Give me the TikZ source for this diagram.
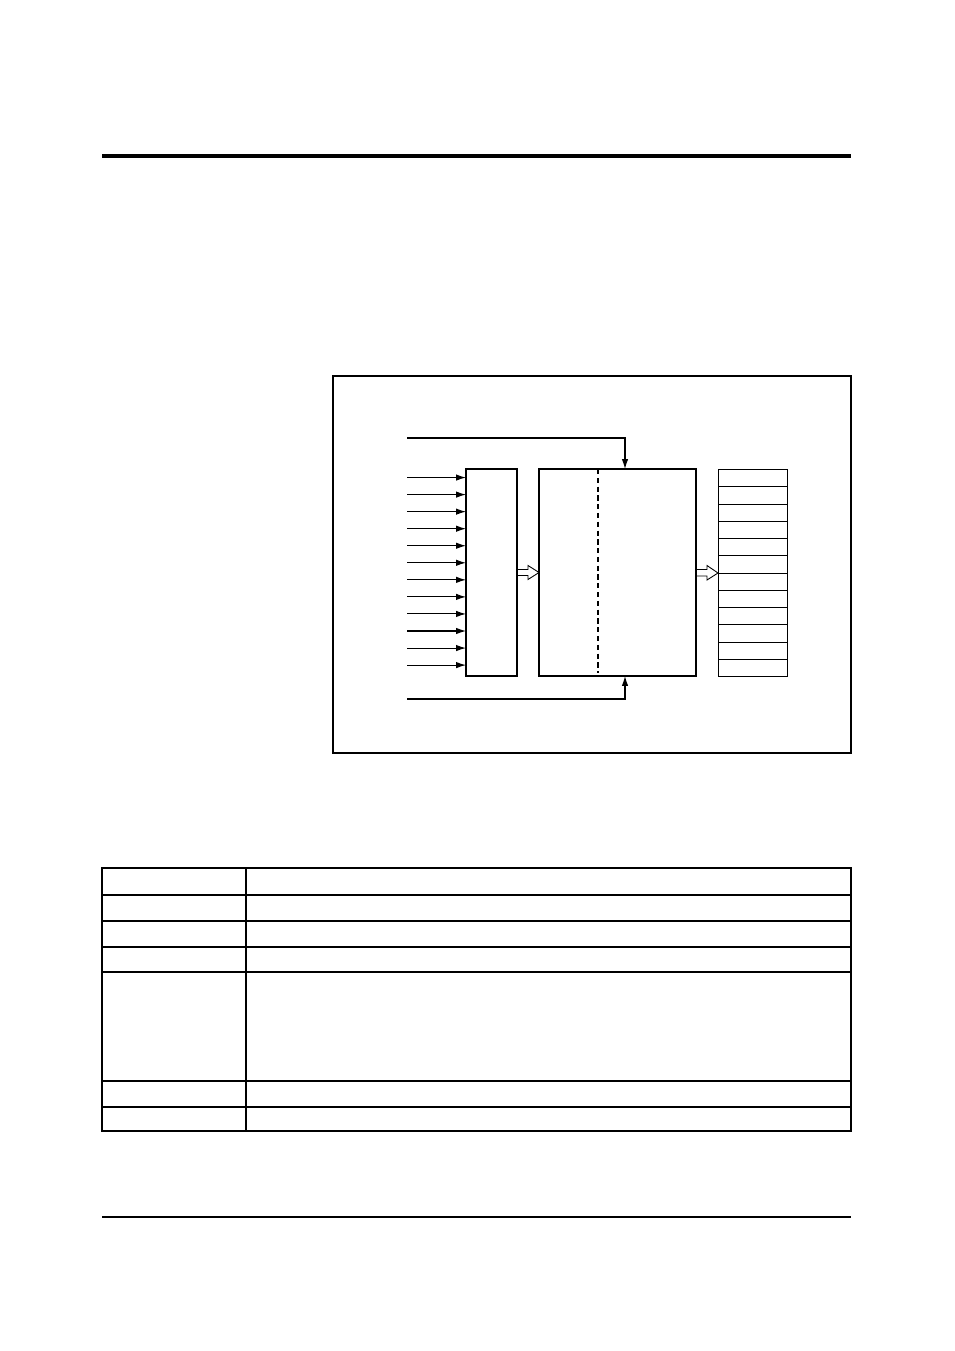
\documentclass[tikz,border=0pt]{standalone}
\usepackage{tikz}
\usetikzlibrary{calc}
\usetikzlibrary{arrows.meta}

\begin{document}
\begin{tikzpicture}[x=0.02cm, y=-0.02cm, line width=0.6pt,
		sig/.style={-{Latex[length=2mm, width=1.3mm]}},
		caja/.style={draw, inner sep=0, outer sep=0, minimum height=4.14cm},
		celda/.style={draw, inner sep=0, outer sep=0, minimum width=1.38cm, minimum height=0.345cm}]
			\useasboundingbox (0,0) rectangle (954,1351);
			\draw [line width=2pt] (102,156) -- (851,156); % linea superior
			\draw (102,1217) -- (851,1217); % linea inferior
			\draw (333,376) rectangle (851,753); % marco
			\node [caja, minimum width=1.02cm] (reg) at (491.5,572.5) {}; % registro
			\node [caja, minimum width=3.14cm] (main) at (617.5,572.5) {}; % bloque central
			\draw [dashed, dash pattern=on 3pt off 2pt] ($(main.north west)+(59,0)$) -- ($(main.south west)+(59,-3)$); % division
			\foreach \i in {1,...,12} \node [celda, line width=0.5pt] (out\i) at (752.5,{460.875+\i*17.25}) {}; % pila de salida
			\foreach \i in {1,...,12} {
				\coordinate (in\i) at (407,{460.5+\i*17.05});
				\draw [sig] (in\i) -- (in\i -| reg.west); % entradas
			}
			\coordinate (ctla) at (407,438);
			\coordinate (ctlb) at (407,699);
			\draw [sig] (ctla) -| ($(main.north)+(7.5,0)$); % control arriba
			\draw [sig] (ctlb) -| ($(main.south)+(7.5,0)$); % control abajo
			\draw [line width=0.5pt] (reg.east) ++(0,-3) -- ++(11,0) -- ++(0,-4) -- (main.west) -- ++(-11,7) -- ++(0,-4) -- ++(-11,0) -- cycle; % flecha hueca
			\draw [line width=0.5pt] (main.east) ++(0,-3) -- ++(11,0) -- ++(0,-4) -- (out7.north west) -- ++(-11,7) -- ++(0,-4) -- ++(-11,0) -- cycle; % flecha hueca
			% tabla
			\draw [line width=0.8pt] (102,868) rectangle (851,1131);
			\draw [line width=0.8pt] (246,868) -- (246,1131);
			\foreach \y in {895,921,947,972,1081,1107} \draw [line width=0.8pt] (102,\y) -- (851,\y);
		\end{tikzpicture}
\end{document}
